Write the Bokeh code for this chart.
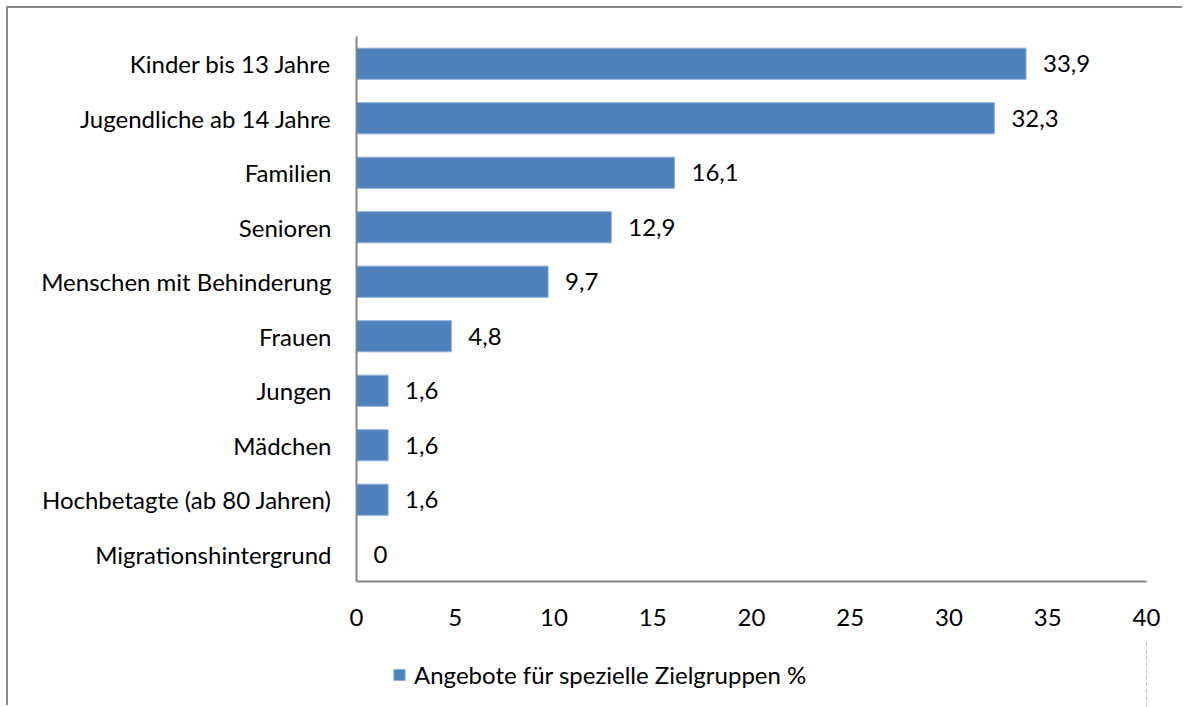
from bokeh.plotting import figure
from bokeh.layouts import column
from bokeh.models import (ColumnDataSource, FactorRange, Range1d, FixedTicker,
                          Legend, LegendItem, LabelSet)
from bokeh.core.properties import value
from bokeh.embed import file_html
from bokeh.resources import INLINE

categories = ["Kinder bis 13 Jahre", "Jugendliche ab 14 Jahre", "Familien",
              "Senioren", "Menschen mit Behinderung", "Frauen", "Jungen",
              "Mädchen", "Hochbetagte (ab 80 Jahren)", "Migrationshintergrund"]
values = [33.9, 32.3, 16.1, 12.9, 9.7, 4.8, 1.6, 1.6, 1.6, 0]
x_ticks = [0, 5, 10, 15, 20, 25, 30, 35, 40]
series_name = "Angebote für spezielle Zielgruppen %"

FONT = "Lato"
FS = "24px"
BAR = "#4F81BD"
EDGE = "#8DADD8"

labels = [f"{v:g}".replace(".", ",") for v in values]
src = ColumnDataSource(dict(cat=categories, val=values, lbl=labels))

p = figure(frame_width=790, frame_height=545,
           output_backend="svg", toolbar_location=None,
           y_range=FactorRange(factors=list(reversed(categories))),
           x_range=Range1d(0, 40),
           min_border_left=348, min_border_right=38,
           min_border_top=28, min_border_bottom=60)
p.outline_line_color = None
p.xgrid.grid_line_color = None
p.ygrid.grid_line_color = None

r = p.hbar(y="cat", right="val", left=0, height=0.57, source=src,
           fill_color=BAR, line_color=EDGE, line_width=1)

p.add_layout(LabelSet(x="val", y="cat", text="lbl", source=src, x_offset=17,
                      text_baseline="middle", text_align="left",
                      text_font=value(FONT), text_font_size=FS,
                      text_color="black"))

p.xaxis.ticker = FixedTicker(ticks=x_ticks)
for ax in (p.xaxis, p.yaxis):
    ax.axis_line_color = "#868686"
    ax.axis_line_width = 2
    ax.major_tick_line_color = None
    ax.minor_tick_line_color = None
    ax.major_tick_out = 0
    ax.major_tick_in = 0
    ax.minor_tick_out = 0
    ax.major_label_text_font = FONT
    ax.major_label_text_font_size = FS
    ax.major_label_text_color = "black"
p.xaxis.major_label_standoff = 27
p.yaxis.major_label_standoff = 25

# legend strip underneath the chart (its frame is aligned with the chart's)
p2 = figure(width=1176, height=66, output_backend="svg", toolbar_location=None,
            x_axis_type=None, y_axis_type=None,
            x_range=Range1d(-2, -1),
            y_range=FactorRange(factors=list(reversed(categories))),
            min_border_left=348, min_border_right=38,
            min_border_top=0, min_border_bottom=0)
p2.outline_line_color = None
r2 = p2.hbar(y="cat", right="val", left=0, height=0.57, source=src,
             fill_color=BAR, line_color=EDGE, line_width=1)
legend = Legend(items=[LegendItem(label=series_name, renderers=[r2])],
                location="left", orientation="horizontal",
                border_line_color=None, background_fill_alpha=0,
                glyph_width=14, glyph_height=14, label_standoff=8,
                padding=0, margin=36,
                label_text_font=FONT, label_text_font_size=FS,
                label_text_color="black")
p2.add_layout(legend, "center")

lay = column(p, p2, spacing=0)
lay.styles = {"margin-left": "8px", "margin-top": "8px",
              "box-shadow": "-2px -2px 0 0 #888888"}

open("out.html", "w").write(file_html(lay, INLINE))
